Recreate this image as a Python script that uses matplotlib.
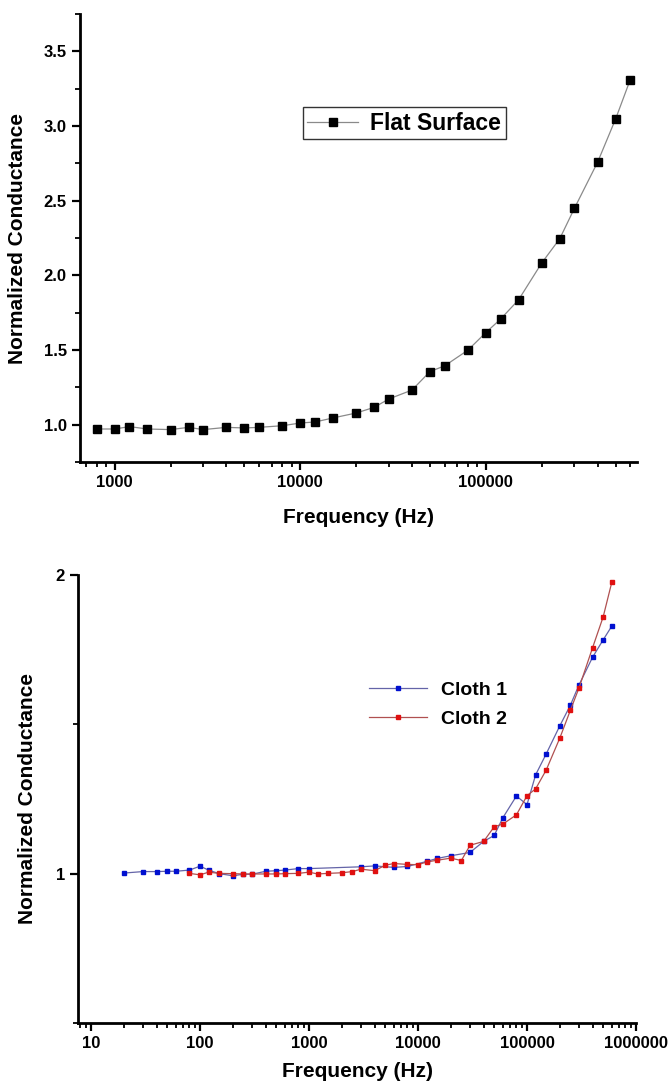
import matplotlib
matplotlib.use('Agg')
import matplotlib.pyplot as plt
from matplotlib.ticker import LogLocator, FixedLocator, MultipleLocator, FuncFormatter

plt.rcParams['font.family'] = ['Liberation Sans', 'DejaVu Sans']
plt.rcParams['font.weight'] = 'bold'

# flat surface data
flat_freq = [800, 1000, 1200, 1500, 2000, 2500, 3000, 4000, 5000, 6000, 8000,
             10000, 12000, 15000, 20000, 25000, 30000, 40000, 50000, 60000, 80000,
             100000, 120000, 150000, 200000, 250000, 300000, 400000, 500000, 600000]
flat_g = [0.971, 0.971, 0.987, 0.971, 0.967, 0.982, 0.967, 0.982, 0.978, 0.982, 0.993,
          1.011, 1.018, 1.045, 1.078, 1.116, 1.172, 1.232, 1.356, 1.394, 1.499,
          1.617, 1.707, 1.836, 2.083, 2.245, 2.449, 2.758, 3.047, 3.311]

# cloth data
c1_freq = [20, 30, 40, 50, 60, 80, 100, 120, 150, 200, 250, 300, 400, 500, 600, 800, 1000,
           3000, 4000, 6000, 8000, 12000, 15000, 20000, 30000, 40000, 50000, 60000, 80000,
           100000, 120000, 150000, 200000, 250000, 300000, 400000, 500000, 600000]
c1_g = [1.002, 1.007, 1.007, 1.008, 1.008, 1.012, 1.025, 1.012, 1.000, 0.993, 0.998, 0.998,
        1.008, 1.010, 1.012, 1.017, 1.017,
        1.023, 1.026, 1.021, 1.024, 1.041, 1.051, 1.060, 1.071, 1.108, 1.128, 1.187, 1.260,
        1.231, 1.331, 1.401, 1.495, 1.564, 1.632, 1.725, 1.783, 1.829]

c2_freq = [80, 100, 120, 150, 200, 250, 300, 400, 500, 600, 800, 1000, 1200, 1500, 2000,
           2500, 3000, 4000, 5000, 6000, 8000, 10000, 12000, 15000, 20000, 25000, 30000,
           40000, 50000, 60000, 80000, 100000, 120000, 150000, 200000, 250000, 300000,
           400000, 500000, 600000]
c2_g = [1.001, 0.996, 1.005, 1.001, 1.000, 0.999, 0.999, 0.999, 0.999, 1.000, 1.001, 1.005,
        0.999, 1.001, 1.003, 1.007, 1.015, 1.010, 1.028, 1.034, 1.031, 1.030, 1.039, 1.045,
        1.052, 1.044, 1.095, 1.108, 1.157, 1.166, 1.197, 1.261, 1.284, 1.347, 1.454, 1.547,
        1.622, 1.757, 1.860, 1.976]

fig = plt.figure(figsize=(6.71, 10.84), dpi=100)
ax1 = fig.add_axes([80/671, 1 - 462/1084, 557/671, 448/1084])
ax2 = fig.add_axes([78/671, 1 - 1023/1084, 558/671, 448/1084])

plain = FuncFormatter(lambda v, p: '%d' % round(v))


def style(ax):
    for s in ['top', 'right']:
        ax.spines[s].set_visible(False)
    for s in ['left', 'bottom']:
        ax.spines[s].set_linewidth(2)
    ax.tick_params(which='major', direction='out', length=6, width=1.6, labelsize=12)
    ax.tick_params(which='minor', direction='out', length=3.5, width=1.3)
    ax.xaxis.set_minor_locator(LogLocator(base=10, subs=range(2, 10), numticks=20))
    ax.xaxis.set_major_formatter(plain)
    for lab in ax.get_xticklabels() + ax.get_yticklabels():
        lab.set_fontweight('bold')


# top plot
ax1.plot(flat_freq, flat_g, color='#8a8a8a', lw=0.9, marker='s', ms=6,
         mfc='black', mec='black', label='Flat Surface')
ax1.set_xscale('log')
ax1.set_xlim(650, 652000)
ax1.set_ylim(0.75, 3.75)
ax1.yaxis.set_major_locator(FixedLocator([1.0, 1.5, 2.0, 2.5, 3.0, 3.5]))
ax1.yaxis.set_minor_locator(MultipleLocator(0.25))
ax1.yaxis.set_major_formatter(FuncFormatter(lambda v, p: '%.1f' % v))
ax1.xaxis.set_major_locator(FixedLocator([1000, 10000, 100000]))
style(ax1)
ax1.set_xlabel('Frequency (Hz)', fontsize=15, fontweight='bold', labelpad=13)
ax1.set_ylabel('Normalized Conductance', fontsize=15, fontweight='bold', labelpad=12)
leg1 = ax1.legend(loc='upper left', bbox_to_anchor=(0.400, 0.792), borderaxespad=0,
                  prop={'size': 16.5, 'weight': 'bold'}, fancybox=False, framealpha=1,
                  handlelength=2.2, handletextpad=0.55, borderpad=0.2)
leg1.get_frame().set_edgecolor('#333333')
leg1.get_frame().set_linewidth(1.0)

# bottom plot
ax2.plot(c1_freq, c1_g, color='#6464a8', lw=0.9, marker='s', ms=3.2,
         mfc='#0010d0', mec='#0010d0', label='Cloth 1')
ax2.plot(c2_freq, c2_g, color='#b05050', lw=0.9, marker='s', ms=3.2,
         mfc='#e01010', mec='#e01010', label='Cloth 2')
ax2.set_xscale('log')
ax2.set_xlim(7.6, 1000000)
ax2.set_ylim(0.5, 2.0)
ax2.yaxis.set_major_locator(FixedLocator([1, 2]))
ax2.yaxis.set_minor_locator(FixedLocator([0.5, 1.5]))
ax2.yaxis.set_major_formatter(plain)
ax2.xaxis.set_major_locator(FixedLocator([10, 100, 1000, 10000, 100000, 1000000]))
style(ax2)
ax2.set_xlabel('Frequency (Hz)', fontsize=15, fontweight='bold', labelpad=8)
ax2.set_ylabel('Normalized Conductance', fontsize=15, fontweight='bold', labelpad=13)
ax2.legend(loc='upper left', bbox_to_anchor=(0.5215, 0.763), borderaxespad=0,
           prop={'size': 14, 'weight': 'bold'}, frameon=False, borderpad=0,
           handlelength=3.0, handletextpad=0.72, labelspacing=0.6)

fig.savefig('out.png', dpi=100)
